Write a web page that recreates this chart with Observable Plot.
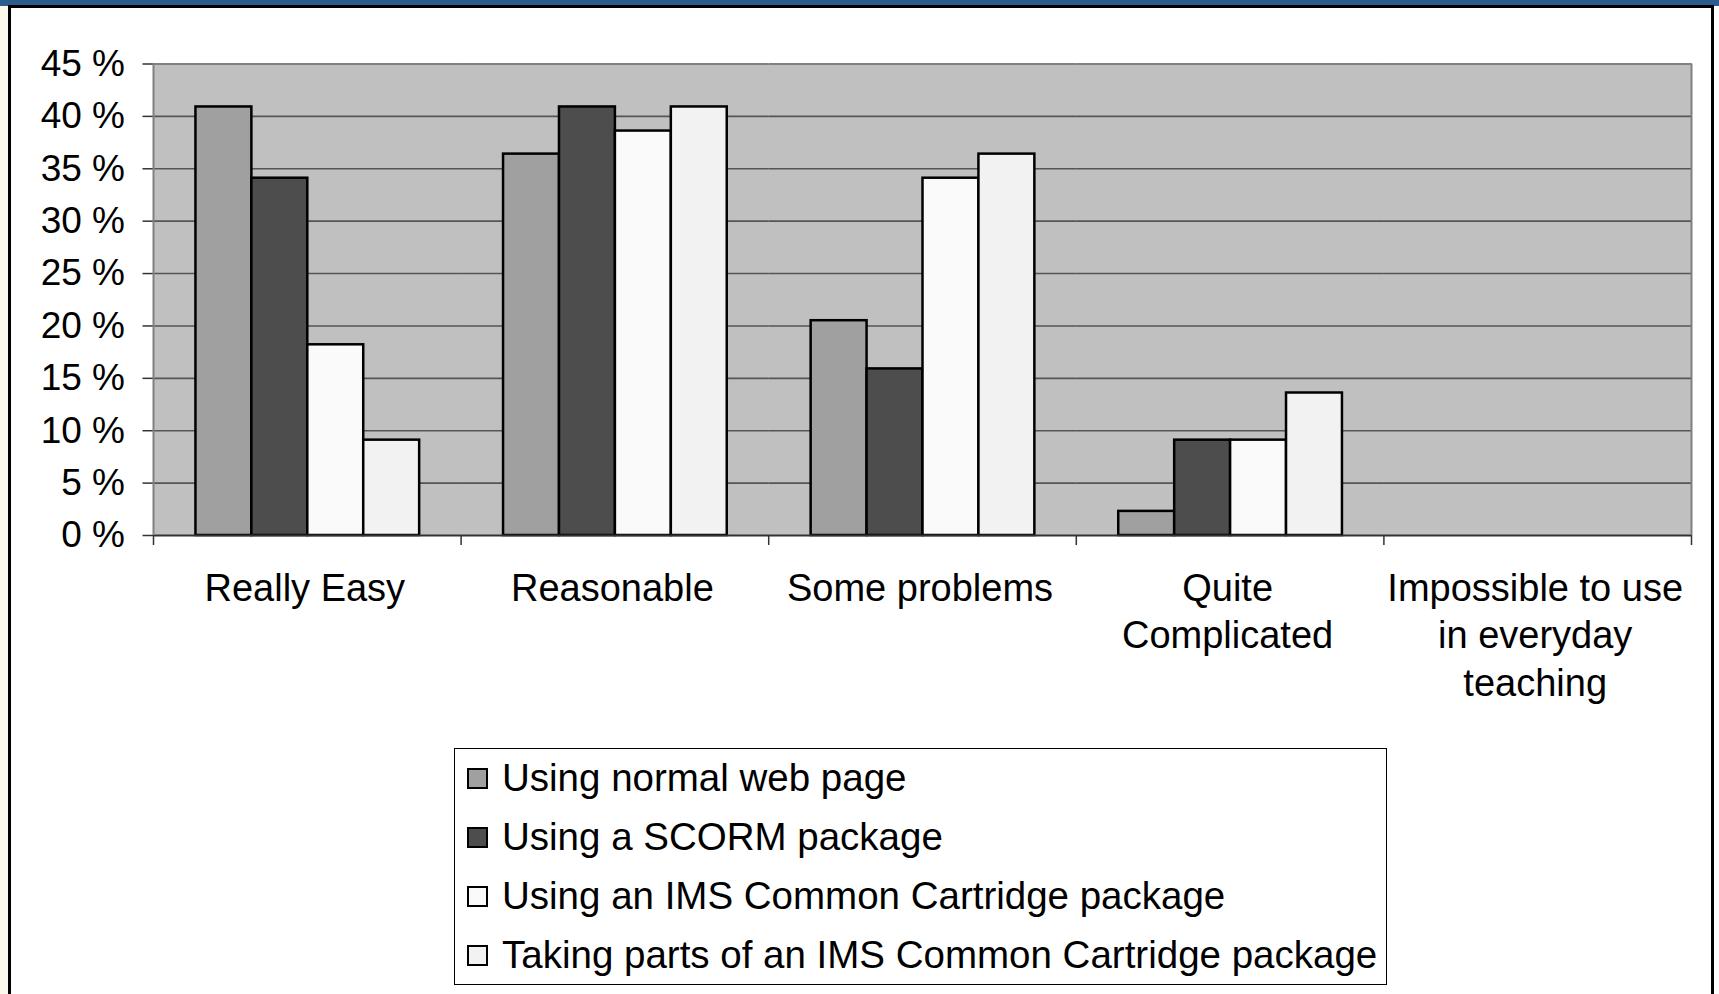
<!DOCTYPE html>
<html>
<head>
<meta charset="utf-8">
<script src="https://cdn.jsdelivr.net/npm/d3@7"></script>
<script src="https://cdn.jsdelivr.net/npm/@observablehq/plot@0.6"></script>
<style>
  html, body { margin: 0; padding: 0; background: #fff; }
  #page { position: relative; width: 1719px; height: 994px; overflow: hidden; background: #fff;
          font-family: "Liberation Sans", Arial, sans-serif; }
  #topbar { position: absolute; left: 0; top: 0; width: 1719px; height: 6px; background: #2d5c91; }
  #leftstrip { position: absolute; left: 0; top: 6px; width: 8px; height: 988px; background: #fdf8ec; }
  #frame { position: absolute; left: 8px; top: 5px; width: 1700px; height: 1000px;
           border: 3px solid #000; border-bottom: none; background: #fff; }
  #chart { position: absolute; left: 0; top: 0; }
  #legend { position: absolute; left: 454px; top: 748px; width: 933px; height: 237px;
            border: 1.5px solid #000; background: #fff; box-sizing: border-box; padding-top: 0px; }
  .item { position: absolute; left: 12px; height: 44px; display: flex; align-items: center;
          font-size: 38.5px; color: #000; white-space: nowrap; }
  .sw { width: 17px; height: 17px; border: 2px solid #000; margin-right: 14px; flex: none; }
</style>
</head>
<body>
<div id="page">
  <div id="topbar"></div>
  <div id="leftstrip"></div>
  <div id="frame"></div>
  <div id="chart"></div>
  <div id="legend"></div>
</div>
<script>
// ---- data ----
const categories = ["Really Easy", "Reasonable", "Some problems", "Quite Complicated", "Impossible to use in everyday teaching"];
const categoryLabels = ["Really Easy", "Reasonable", "Some problems", "Quite\nComplicated", "Impossible to use\nin everyday\nteaching"];
const series = ["Using normal web page", "Using a SCORM package", "Using an IMS Common Cartridge package", "Taking parts of an IMS Common Cartridge package"];
const normalWebPage = [40.9, 36.4, 20.5, 2.3, 0];
const scormPackage = [34.1, 40.9, 15.9, 9.1, 0];
const imsPackage = [18.2, 38.6, 34.1, 9.1, 0];
const imsParts = [9.1, 40.9, 36.4, 13.6, 0];
const yTicks = [0, 5, 10, 15, 20, 25, 30, 35, 40, 45];
const seriesColors = ["#a0a0a0", "#4d4d4d", "#fafafa", "#f2f2f2"];

const seriesValues = [normalWebPage, scormPackage, imsPackage, imsParts];
const data = [];
categories.forEach((c, i) => series.forEach((s, j) => data.push({category: c, series: s, value: seriesValues[j][i]})));

// ---- chart ----
const W = 1719, H = 745;
const FONT = "'Liberation Sans', Arial, sans-serif";
const chart = Plot.plot({
  width: W, height: H,
  marginLeft: 153.5, marginRight: 27.5, marginTop: 63.5, marginBottom: H - 535,
  style: {background: "transparent", fontFamily: FONT, fontSize: "37px", color: "#000"},
  fx: {domain: categories, padding: 0, label: null, round: false},
  x: {domain: series, paddingInner: 0, paddingOuter: 0.75, axis: null, round: false},
  y: {domain: [0, 45], label: null},
  color: {domain: series, range: seriesColors},
  marks: [
    Plot.frame({facet: "super", fill: "#c0c0c0", stroke: null}),
    Plot.dot(data, {fx: "category", x: "series", y: "value", r: 0, stroke: null}),
    Plot.ruleY(yTicks.filter(d => d > 0 && d < 45), {stroke: "#555", strokeWidth: 1.6}),
    Plot.ruleY([45], {stroke: "#808080", strokeWidth: 2}),
    Plot.barY(data.filter(d => d.value > 0), {fx: "category", x: "series", y: "value", fill: "series", stroke: "#000", strokeWidth: 2.5}),
    Plot.ruleY([0], {stroke: "#333", strokeWidth: 2}),
    Plot.axisY({ticks: yTicks, tickFormat: d => d + " %", tickSize: 11, tickPadding: 18, fontSize: 37, stroke: "#333", strokeWidth: 1.5}),
    Plot.axisFx({anchor: "bottom", tickSize: 0, tickPadding: 31.5, fontSize: 38, lineHeight: 1.25, dx: -3,
                 tickFormat: d => categoryLabels[categories.indexOf(d)]})
  ]
});
document.getElementById("chart").appendChild(chart);

// borders and category boundary ticks using Plot's scales
const fxS = chart.scale("fx"), yS = chart.scale("y");
const band = d3.scaleBand(fxS.domain, fxS.range).padding(0);
const yLin = d3.scaleLinear(yS.domain, yS.range);
const svg = d3.select(chart);
const g = svg.append("g");
const left = band.range()[0], right = band.range()[1];
g.append("line").attr("x1", left).attr("x2", left).attr("y1", yLin(45)).attr("y2", yLin(0)).attr("stroke", "#808080").attr("stroke-width", 2);
g.append("line").attr("x1", right).attr("x2", right).attr("y1", yLin(45)).attr("y2", yLin(0)).attr("stroke", "#808080").attr("stroke-width", 2);
const bounds = categories.map(c => band(c)).concat([right]);
bounds.forEach(b => g.append("line").attr("x1", b).attr("x2", b).attr("y1", yLin(0)).attr("y2", yLin(0) + 10).attr("stroke", "#333").attr("stroke-width", 1.5));

// ---- legend ----
const legend = document.getElementById("legend");
const rowTops = [7, 66, 125, 184];
series.forEach((s, i) => {
  const item = document.createElement("div");
  item.className = "item";
  item.style.top = rowTops[i] + "px";
  const sw = document.createElement("div");
  sw.className = "sw";
  sw.style.background = seriesColors[i];
  const t = document.createElement("span");
  t.textContent = s;
  item.appendChild(sw); item.appendChild(t);
  legend.appendChild(item);
});
</script>
</body>
</html>
